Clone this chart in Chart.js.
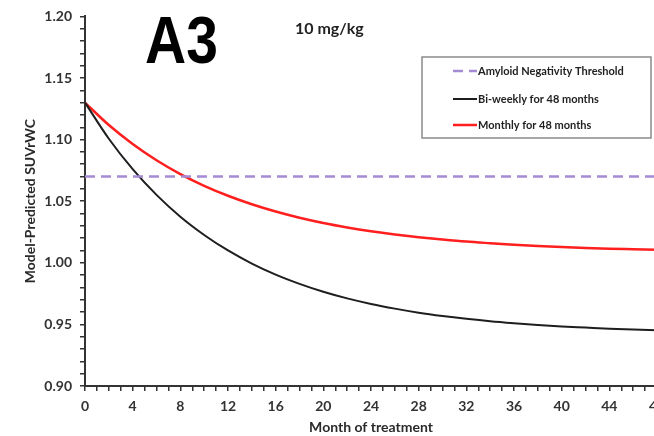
<!DOCTYPE html>
<html>
<head>
<meta charset="utf-8">
<script src="https://cdn.jsdelivr.net/npm/chart.js@4.4.1/dist/chart.umd.min.js"></script>
<style>
  html, body { margin: 0; padding: 0; background: #fff; overflow: hidden; }
  #wrap { width: 654px; height: 436px; overflow: hidden; }
</style>
</head>
<body>
<div id="wrap"><canvas id="myChart" width="684" height="436"></canvas></div>
<script>
// months of treatment (every 2 months)
const months = [0, 2, 4, 6, 8, 10, 12, 14, 16, 18, 20, 22, 24, 26, 28, 30, 32, 34, 36, 38, 40, 42, 44, 46, 48]
// bi-weekly dosing for 48 months
const biweekly = [1.1300, 1.1007, 1.0760, 1.0551, 1.0374, 1.0226, 1.0100, 0.9994, 0.9904, 0.9829, 0.9765, 0.9711,
  0.9666, 0.9628, 0.9595, 0.9568, 0.9545, 0.9525, 0.9509, 0.9495, 0.9483, 0.9474, 0.9465, 0.9458, 0.9452]
// monthly dosing for 48 months
const monthly = [1.1300, 1.1118, 1.0964, 1.0832, 1.0720, 1.0625, 1.0544, 1.0475, 1.0416, 1.0366, 1.0323, 1.0287,
  1.0256, 1.0230, 1.0208, 1.0189, 1.0172, 1.0159, 1.0147, 1.0137, 1.0128, 1.0121, 1.0115, 1.0110, 1.0105]
const threshold = 1.07
const seriesLabels = ['Amyloid Negativity Threshold', 'Bi-weekly for 48 months', 'Monthly for 48 months']

const toXY = (ys) => ys.map((y, i) => ({ x: months[i], y: y }))

const tickFont = { family: 'Lato', size: 14, weight: 'bold' }

// panel label, dose text and the boxed legend
const extras = {
  id: 'extras',
  afterDraw: chart => {
    const ctx = chart.ctx
    ctx.save()
    // "A3" is a bit stretched vertically in the original
    ctx.fillStyle = '#000'
    ctx.font = 'bold 57px "Liberation Sans"'
    ctx.textBaseline = 'alphabetic'
    ctx.translate(145, 63)
    ctx.scale(1, 1.18)
    ctx.fillText('A3', 0, 0)
    ctx.restore()

    ctx.save()
    ctx.fillStyle = '#222'
    ctx.font = 'bold 16px Lato'
    ctx.textBaseline = 'alphabetic'
    ctx.fillText('10 mg/kg', 295, 34)

    // legend box
    ctx.strokeStyle = '#8a8a8a'
    ctx.lineWidth = 1.5
    ctx.fillStyle = '#fff'
    ctx.fillRect(422, 57, 229, 81)
    ctx.strokeRect(422, 57, 229, 81)
    const rows = [71, 99, 125]
    ctx.font = 'bold 11px Lato'
    ctx.textBaseline = 'middle'
    chart.data.datasets.forEach((ds, i) => {
      ctx.strokeStyle = ds.borderColor
      ctx.lineWidth = ds.borderWidth
      ctx.setLineDash(ds.borderDash || [])
      ctx.beginPath()
      ctx.moveTo(453, rows[i])
      ctx.lineTo(477, rows[i])
      ctx.stroke()
      ctx.setLineDash([])
      ctx.fillStyle = '#222'
      ctx.fillText(ds.label, 478, rows[i])
    })
    ctx.restore()
  }
}

new Chart('myChart', {
  type: 'line',
  plugins: [extras],
  data: {
    datasets: [
      {
        label: seriesLabels[0],
        data: [{ x: months[0], y: threshold }, { x: months[months.length - 1], y: threshold }],
        borderColor: '#a58ad6',
        borderWidth: 2.5,
        borderDash: [10, 6],
        pointRadius: 0
      },
      {
        label: seriesLabels[1],
        data: toXY(biweekly),
        borderColor: '#1e1e1e',
        borderWidth: 2,
        pointRadius: 0,
        cubicInterpolationMode: 'monotone'
      },
      {
        label: seriesLabels[2],
        data: toXY(monthly),
        borderColor: '#ff1f1f',
        borderWidth: 2.5,
        pointRadius: 0,
        cubicInterpolationMode: 'monotone'
      }
    ]
  },
  options: {
    responsive: false,
    animation: false,
    layout: { padding: { left: 0, top: 16, right: 27, bottom: 0 } },
    plugins: {
      legend: { display: false },
      tooltip: { enabled: false }
    },
    scales: {
      x: {
        type: 'linear',
        min: 0,
        max: 48,
        afterFit: scale => { scale.height = 50 },
        border: { display: true, color: '#333', width: 2 },
        grid: { drawOnChartArea: false, drawTicks: true, tickLength: 5, color: '#333', lineWidth: 1.5 },
        ticks: {
          stepSize: 1,
          autoSkip: false,
          maxRotation: 0,
          padding: 7,
          color: '#333',
          font: tickFont,
          callback: v => (v % 4 === 0 ? String(v) : '')
        },
        title: {
          display: true,
          text: 'Month of treatment',
          color: '#2a2a2a',
          font: { family: 'Lato', size: 14, weight: 'bold' },
          padding: { top: 0, bottom: 0 }
        }
      },
      y: {
        min: 0.9,
        max: 1.2,
        afterFit: scale => { scale.width = 85 },
        border: { display: true, color: '#333', width: 2 },
        grid: { drawOnChartArea: false, drawTicks: true, tickLength: 5, color: '#333', lineWidth: 1.5 },
        ticks: {
          stepSize: 0.01,
          autoSkip: false,
          padding: 8,
          color: '#333',
          font: tickFont,
          callback: v => (Math.round(v * 100) % 5 === 0 ? v.toFixed(2) : '')
        },
        title: {
          display: true,
          text: 'Model-Predicted SUVrWC',
          color: '#2a2a2a',
          font: { family: 'Lato', size: 14, weight: 'bold' },
          padding: { top: 22, bottom: 0 }
        }
      }
    }
  }
})
</script>
</body>
</html>
